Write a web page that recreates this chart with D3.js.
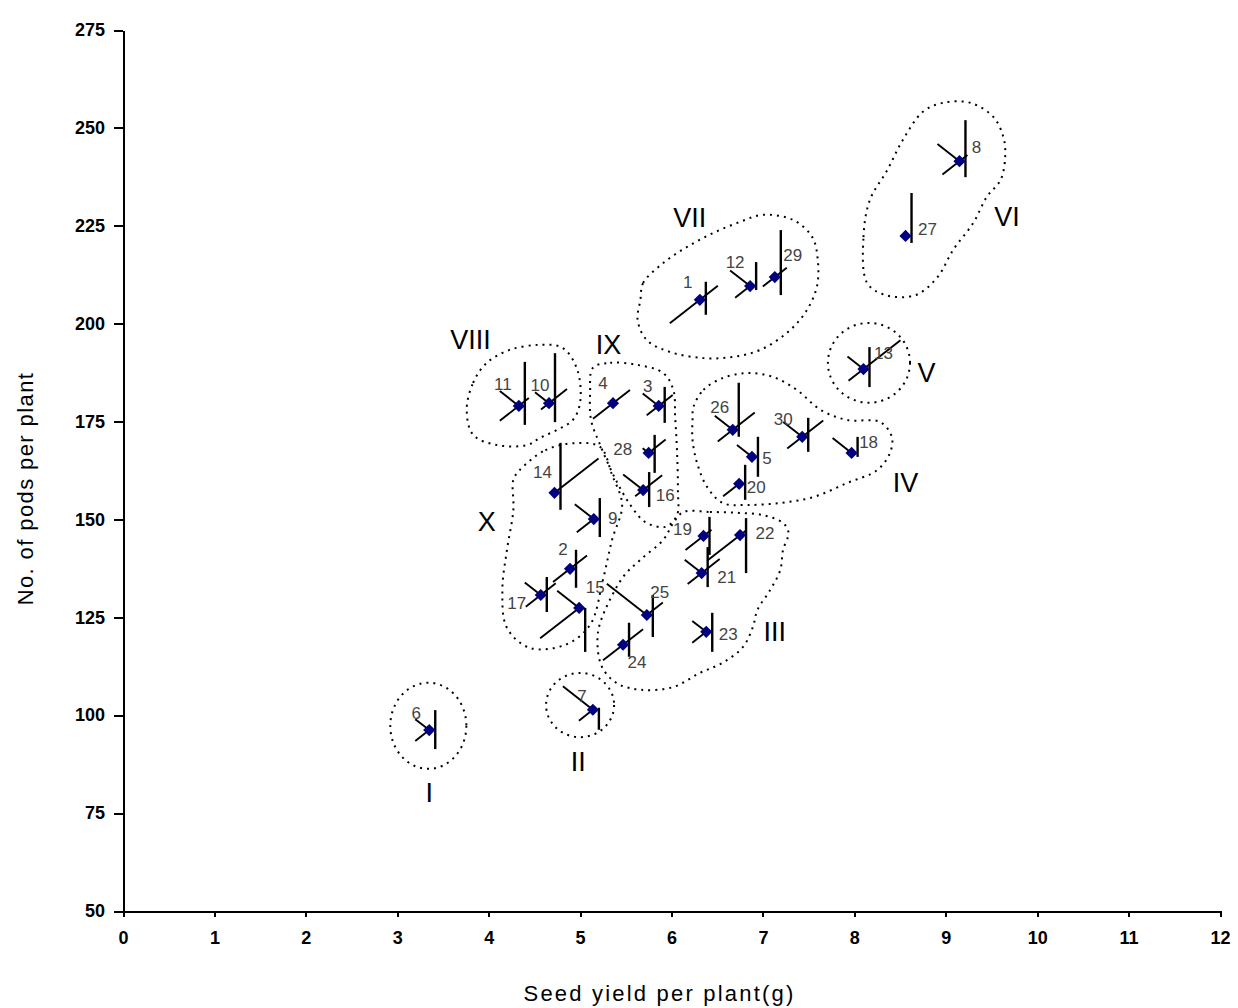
<!DOCTYPE html>
<html>
<head>
<meta charset="utf-8">
<script src="https://cdn.jsdelivr.net/npm/d3@7"></script>
<style>
  body { margin: 0; background: #fff; }
  svg { display: block; }
  .axis text { font-family: "Liberation Sans", Arial, sans-serif; font-weight: bold; font-size: 18px; fill: #000; }
  .axis path, .axis line { stroke: #000; stroke-width: 2px; shape-rendering: crispEdges; }
</style>
</head>
<body>
<svg id="chart" width="1238" height="1008"></svg>
<script>
// genotype numbers and the two plotted traits
const genotypes = d3.range(1, 31)
const seedYield = [6.31, 4.89, 5.86, 5.36, 6.88, 3.35, 5.14, 9.15, 5.15, 4.66,
  4.33, 6.86, 8.10, 4.72, 4.99, 5.69, 4.57, 7.97, 6.35, 6.74,
  6.33, 6.75, 6.38, 5.47, 5.73, 6.67, 8.56, 5.75, 7.13, 7.43]
const podsPerPlant = [206.1, 137.4, 179.0, 179.7, 166.0, 96.2, 101.4, 241.5, 150.1, 179.7,
  179.0, 209.6, 188.4, 156.8, 127.4, 157.5, 130.7, 167.0, 145.8, 159.1,
  136.3, 146.0, 121.3, 118.0, 125.6, 172.9, 222.4, 167.0, 211.9, 171.1]

// glyph ray scores (0-10) for genotypes 1..30
const rayUp = [3.6, 3.8, 3.8, 0, 4, 4, 0.4, 8.2, 4.2, 10,
  8.8, 4.8, 4.4, 10, 0, 3.6, 3.6, 3.2, 3.8, 3.8,
  5.2, 3.4, 3.8, 4.4, 4, 9.4, 8.6, 3.6, 9.4, 3.8]
const rayDown = [3, 3.8, 3.4, 0, 4, 3.8, 4, 3.2, 3.6, 3.8,
  3.8, 0.8, 3.6, 3.4, 8.8, 3.4, 3.4, 0.8, 3.8, 3.2,
  2.8, 7.6, 4, 2.4, 4.4, 1.4, 1.4, 4, 3.6, 3]
const rayNE = [3.6, 3.4, 2.8, 3.4, 0, 0, 0, 1.6, 0, 3.6,
  2, 0, 7.4, 8.8, 0, 3.8, 3, 0, 1.6, 0,
  3.6, 1.2, 0, 4, 3.2, 4.4, 0, 3.4, 2.4, 4.2]
const raySW = [6, 3.4, 2.4, 4, 0, 2.8, 2.8, 3.4, 3.4, 1.6,
  3.8, 3, 3, 0, 7.8, 1.6, 3, 0, 3.6, 3.2,
  2.8, 6.6, 2.8, 4, 0, 3, 0, 0, 2.4, 3]
const rayNW = [0, 0, 3.2, 0, 3, 2.8, 6, 4.4, 3.8, 2.8,
  3.8, 4, 3.2, 0, 4.4, 4, 3.2, 3.8, 0, 0,
  3.4, 0, 2.8, 0, 8, 3.6, 0, 1.2, 0, 3.8]

const xTicks = d3.range(0, 13, 1)
const yTicks = d3.range(50, 276, 25)

// cluster outlines in data units
const clusterNames = ["I", "II", "III", "IV", "V", "VI", "VII", "VIII", "IX", "X"]
const clusterLabelAt = [[3.35, 80.2], [4.98, 88.1], [7.13, 121.3], [8.56, 159.3], [8.79, 187.4],
  [9.67, 227.2], [6.20, 227.0], [3.80, 195.8], [5.31, 194.6], [3.98, 149.4]]
const ellipseClusters = [
  { name: "I", cx: 3.34, cy: 97.3, rx: 0.416, ry: 11.0 },
  { name: "II", cx: 5.00, cy: 102.6, rx: 0.372, ry: 8.2 },
  { name: "V", cx: 8.16, cy: 190.0, rx: 0.449, ry: 10.2 }
]
const outlineIII = [[6.13, 151.9], [6.42, 151.9], [6.72, 151.7], [7.00, 151.1], [7.22, 149.1], [7.28, 146.6],
  [7.22, 142.2], [7.19, 137.1], [7.08, 132.0], [6.94, 126.9], [6.89, 122.5], [6.78, 117.4], [6.56, 113.4],
  [6.31, 110.8], [6.02, 107.2], [5.66, 106.5], [5.40, 108.2], [5.24, 112.3], [5.19, 118.5], [5.22, 123.6],
  [5.47, 135.3], [5.66, 139.7], [5.91, 144.8], [6.02, 149.1]]
const outlineIV = [[6.24, 178.7], [6.35, 183.1], [6.56, 186.1], [6.83, 187.4], [7.11, 186.4], [7.37, 183.1],
  [7.63, 178.0], [7.92, 175.4], [8.28, 174.9], [8.41, 171.1], [8.39, 167.0], [8.25, 162.6], [7.92, 159.3],
  [7.55, 155.7], [7.19, 154.2], [6.83, 153.7], [6.56, 154.2], [6.39, 158.3], [6.28, 164.4], [6.23, 170.3],
  [6.23, 175.4]]
const outlineVI = [[8.14, 210.4], [8.10, 222.1], [8.17, 231.6], [8.36, 239.2], [8.53, 246.9], [8.75, 254.1],
  [8.97, 256.4], [9.27, 256.4], [9.52, 252.8], [9.63, 247.7], [9.65, 242.6], [9.60, 236.7], [9.45, 232.4],
  [9.30, 225.7], [9.08, 218.8], [8.91, 211.9], [8.67, 207.3], [8.34, 207.3]]
const outlineVII = [[5.66, 206.1], [5.69, 210.4], [5.91, 215.5], [6.17, 219.6], [6.46, 223.2], [6.75, 226.0],
  [7.00, 227.8], [7.33, 226.5], [7.54, 222.1], [7.60, 216.3], [7.59, 209.4], [7.46, 202.7], [7.26, 197.6],
  [6.97, 193.3], [6.67, 191.5], [6.35, 191.2], [5.98, 192.8], [5.73, 195.8], [5.63, 200.9]]
const outlineVIII = [[3.76, 178.0], [3.83, 184.9], [3.98, 190.0], [4.23, 193.3], [4.56, 194.6], [4.81, 193.8],
  [4.97, 188.2], [5.00, 179.8], [4.92, 175.4], [4.75, 172.9], [4.56, 170.8], [4.42, 169.0], [4.09, 169.0],
  [3.83, 171.6]]
const outlineIX = [[5.14, 188.7], [5.33, 190.0], [5.62, 189.5], [5.91, 187.4], [6.02, 183.1], [6.04, 176.2],
  [6.06, 167.7], [6.07, 157.5], [6.06, 151.1], [5.93, 148.1], [5.71, 149.4], [5.55, 153.7], [5.38, 160.6],
  [5.22, 169.0], [5.12, 175.4], [5.11, 182.3]]
const outlineX = [[4.34, 162.6], [4.62, 167.7], [4.95, 169.5], [5.22, 168.5], [5.35, 161.4], [5.46, 153.7],
  [5.35, 144.8], [5.25, 134.6], [5.11, 123.1], [4.84, 118.0], [4.45, 117.2], [4.20, 122.3], [4.15, 132.0],
  [4.20, 142.2], [4.27, 152.4], [4.27, 160.1]]

const svg = d3.select("#chart")
const x = d3.scaleLinear().domain([0, 12]).range([123, 1220])
const y = d3.scaleLinear().domain([50, 275]).range([911, 30])
const glyph = d3.scaleLinear().domain([0, 10]).range([0, 50])
const slope = 0.78

// cluster boundaries
const dotted = g => g.attr("fill", "none").attr("stroke", "#000")
  .attr("stroke-width", 2).attr("stroke-dasharray", "2,5")

const outline = d3.line().x(d => x(d[0])).y(d => y(d[1])).curve(d3.curveCatmullRomClosed.alpha(0.5))
const clusters = svg.append("g").attr("class", "clusters")
;[outlineIII, outlineIV, outlineVI, outlineVII, outlineVIII, outlineIX, outlineX].forEach(o => {
  clusters.append("path").attr("d", outline(o)).call(dotted)
})
clusters.selectAll("ellipse").data(ellipseClusters).join("ellipse")
  .attr("cx", d => x(d.cx)).attr("cy", d => y(d.cy))
  .attr("rx", d => x(d.cx + d.rx) - x(d.cx))
  .attr("ry", d => y(d.cy - d.ry) - y(d.cy))
  .call(dotted)

svg.append("g").selectAll("text").data(clusterNames).join("text")
  .attr("x", (d, i) => x(clusterLabelAt[i][0]))
  .attr("y", (d, i) => y(clusterLabelAt[i][1]))
  .attr("text-anchor", "middle").attr("dominant-baseline", "central")
  .attr("font-family", "'Liberation Sans Narrow', 'Liberation Sans', Arial, sans-serif")
  .attr("font-size", 27).attr("fill", "#000")
  .text(d => d)

// axes
svg.append("g").attr("class", "axis")
  .attr("transform", `translate(${x(0)},0)`)
  .call(d3.axisLeft(y).tickValues(yTicks).tickSize(9).tickSizeOuter(0).tickPadding(9))
svg.append("g").attr("class", "axis")
  .attr("transform", `translate(0,${y(50)})`)
  .call(d3.axisBottom(x).tickValues(xTicks).tickSize(6).tickSizeOuter(0).tickPadding(14))

svg.append("text")
  .attr("x", (x(0) + x(12)) / 2 - 12).attr("y", 1001)
  .attr("text-anchor", "middle")
  .attr("font-family", "'Liberation Sans', Arial, sans-serif")
  .attr("font-size", 22).attr("letter-spacing", 2.2)
  .text("Seed yield per plant(g)")
svg.append("text")
  .attr("transform", `translate(33,${(y(50) + y(275)) / 2 + 18}) rotate(-90)`)
  .attr("text-anchor", "middle")
  .attr("font-family", "'Liberation Sans', Arial, sans-serif")
  .attr("font-size", 22).attr("letter-spacing", 1.4)
  .text("No. of pods per plant")

// metroglyphs
const pts = genotypes.map((g, i) => ({
  id: g, sx: x(seedYield[i]), sy: y(podsPerPlant[i]),
  up: glyph(rayUp[i]), down: glyph(rayDown[i]),
  ne: glyph(rayNE[i]), sw: glyph(raySW[i]), nw: glyph(rayNW[i])
}))

const rays = svg.append("g").attr("stroke", "#000")
pts.forEach(p => {
  if (p.up + p.down > 0) {
    rays.append("line").attr("x1", p.sx + 6).attr("x2", p.sx + 6)
      .attr("y1", p.sy - p.up).attr("y2", p.sy + p.down).attr("stroke-width", 2.4)
  }
  if (p.ne + p.sw > 0) {
    rays.append("line").attr("x1", p.sx - p.sw).attr("y1", p.sy + p.sw * slope)
      .attr("x2", p.sx + p.ne).attr("y2", p.sy - p.ne * slope).attr("stroke-width", 1.9)
  }
  if (p.nw > 0) {
    rays.append("line").attr("x1", p.sx - p.nw).attr("y1", p.sy - p.nw * slope)
      .attr("x2", p.sx).attr("y2", p.sy).attr("stroke-width", 1.9)
  }
})

svg.append("g").selectAll("path").data(pts).join("path")
  .attr("transform", d => `translate(${d.sx},${d.sy})`)
  .attr("d", d3.symbol(d3.symbolDiamond2, 95))
  .attr("fill", "#000080")

// genotype number labels, pixel offsets from each point
const labelOffsets = {
  1: [-12, -17], 2: [-7, -19], 3: [-11, -19], 4: [-10, -20], 5: [15, 2], 6: [-13, -17], 7: [-11, -13],
  8: [17, -14], 9: [19, -1], 10: [-9, -18], 11: [-16, -21], 12: [-15, -24], 13: [20, -16], 14: [-12, -20],
  15: [16, -20], 16: [22, 5], 17: [-24, 8], 18: [17, -10], 19: [-21, -6], 20: [17, 4], 21: [25, 4],
  22: [25, -2], 23: [22, 3], 24: [14, 18], 25: [13, -22], 26: [-13, -22], 27: [22, -6], 28: [-26, -3],
  29: [18, -22], 30: [-19, -17]
}
svg.append("g").selectAll("text").data(pts).join("text")
  .attr("x", d => d.sx + labelOffsets[d.id][0])
  .attr("y", d => d.sy + labelOffsets[d.id][1])
  .attr("text-anchor", "middle").attr("dominant-baseline", "central")
  .attr("font-family", "'Liberation Sans Narrow', 'Liberation Sans', Arial, sans-serif")
  .attr("font-size", 17).attr("fill", "#444")
  .text(d => d.id)
</script>
</body>
</html>
